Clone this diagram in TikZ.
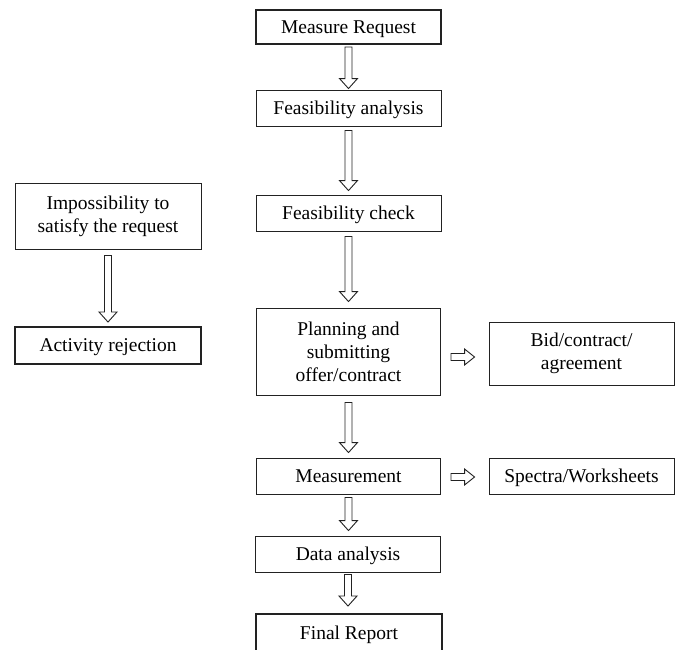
\documentclass[tikz,border=0pt]{standalone}
\usepackage{fontspec}
\setmainfont{Liberation Serif}
\usetikzlibrary{calc}
\definecolor{ink}{HTML}{222222}
\tikzset{
  box/.style={draw=ink, line width=0.9pt, rectangle, inner sep=0pt, align=center,
    font=\fontsize{19.5}{23}\selectfont, text=black},
  thickbox/.style={box, line width=2pt},
  oneline/.style={text height=12.9pt, text depth=0pt},
  blk/.style={draw=ink, line width=0.9pt, fill=white, line join=miter},
}
\newcommand{\varr}[4]{%
  \draw[blk] let \p1=($(#1.south)+(0,-#3pt)$), \p2=($(#2.north)+(0,#4pt)$) in
    (\x1-3.5pt,\y1) -- (\x1+3.5pt,\y1) -- (\x1+3.5pt,\y2+10pt) -- (\x1+9pt,\y2+10pt)
    -- (\x1,\y2) -- (\x1-9pt,\y2+10pt) -- (\x1-3.5pt,\y2+10pt) -- cycle;}
\newcommand{\harr}[5]{%
  \draw[blk] let \p1=($(#1.east)+(#3pt,#5pt)$), \p2=($(#2.west)+(-#4pt,0)$) in
    (\x1,\y1+3.5pt) -- (\x1,\y1-3.5pt) -- (\x2-10pt,\y1-3.5pt) -- (\x2-10pt,\y1-8pt)
    -- (\x2,\y1) -- (\x2-10pt,\y1+8pt) -- (\x2-10pt,\y1+3.5pt) -- cycle;}
\begin{document}
\begin{tikzpicture}[x=1pt,y=-1pt]
\clip (0,0) rectangle (684,649);
\fill[white] (0,0) rectangle (684,649);
% main column
\node[thickbox, oneline, minimum width=185pt, minimum height=34pt] (req) at (348.5,27) {Measure Request};
\node[box, oneline, minimum width=185pt, minimum height=36pt] (fa) at (348.5,108) {Feasibility analysis};
\node[box, oneline, minimum width=185pt, minimum height=36pt] (fc) at (348.5,213) {Feasibility check};
\node[box, minimum width=184pt, minimum height=87pt] (plan) at (348.5,351.5) {Planning and\\submitting\\offer/contract};
\node[box, oneline, minimum width=184pt, minimum height=36pt] (meas) at (348.5,476) {Measurement};
\node[box, oneline, minimum width=185pt, minimum height=36pt] (data) at (348,554) {Data analysis};
\node[thickbox, oneline, minimum width=186pt, minimum height=38pt] (final) at (349,633) {Final Report};
% right column
\node[box, minimum width=185pt, minimum height=63pt] (bid) at (581.5,353.5) {Bid/contract/\\agreement};
\node[box, oneline, minimum width=185pt, minimum height=36pt] (spec) at (581.5,476) {Spectra/Worksheets};
% left column
\node[box, minimum width=186pt, minimum height=66pt] (imp) at (108,216) {Impossibility to\\satisfy the request};
\node[thickbox, oneline, minimum width=186pt, minimum height=37pt] (rej) at (108,345.5) {Activity rejection};
% arrows
\varr{req}{fa}{2}{1}
\varr{fa}{fc}{4}{4}
\varr{fc}{plan}{5}{6}
\varr{plan}{meas}{7}{5}
\varr{meas}{data}{3}{5}
\varr{data}{final}{2}{7}
\varr{imp}{rej}{6}{4}
\harr{plan}{bid}{10}{14}{-5.5}
\harr{meas}{spec}{10}{14}{-1}
\end{tikzpicture}
\end{document}
